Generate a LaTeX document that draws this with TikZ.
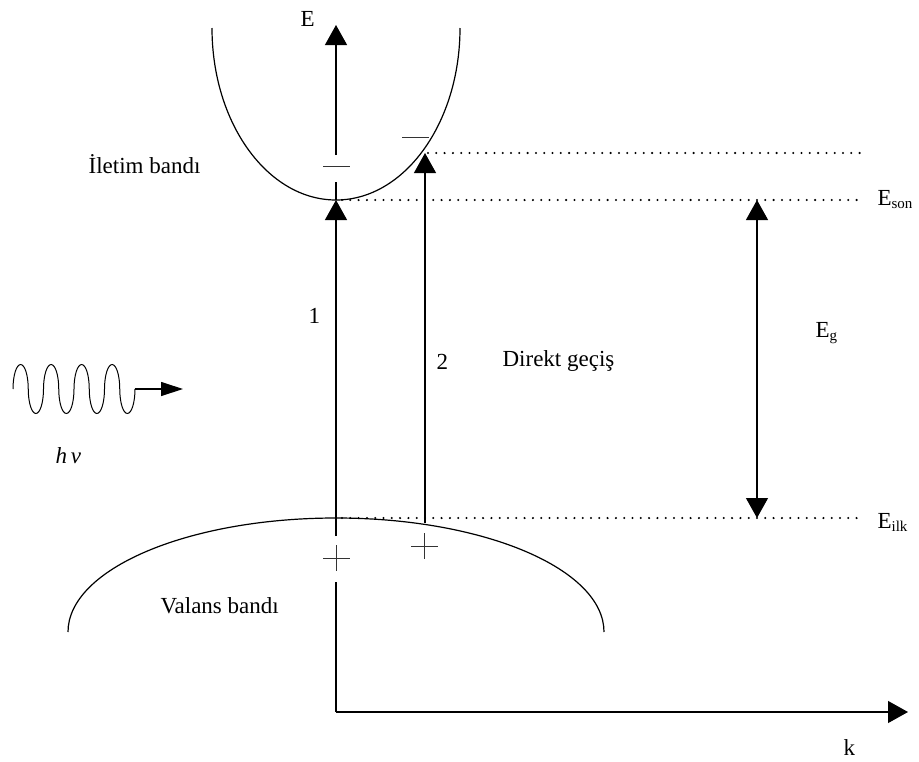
\documentclass[tikz,border=0pt]{standalone}
\usepackage{fontspec}
\setmainfont{Liberation Serif}
\usetikzlibrary{arrows.meta}
\begin{document}
\begin{tikzpicture}[x=1pt,y=-1pt,line width=1.2pt,
  tri/.style={-{Triangle[length=20pt,width=22pt]}},
  dtri/.style={{Triangle[length=20pt,width=22pt]}-{Triangle[length=20pt,width=22pt]}},
  dotline/.style={line width=2.3pt,dash pattern=on 0pt off 8.3pt,line cap=round},
  lbl/.style={inner sep=0pt,anchor=base west,font=\fontsize{23}{26}\selectfont},
  sign/.style={line width=1pt,black!80},
  band/.style={line width=1.2pt},
  up/.style={},
  wave/.style={line width=1pt}]
\useasboundingbox (0,0) rectangle (919,761);
% coordinates
\coordinate (O) at (336,712);
\coordinate (kend) at (908,712);
\coordinate (axlow) at (336,582);
\coordinate (a1s) at (336,536);
\coordinate (a1e) at (336,200);
\coordinate (segtop) at (336,182);
\coordinate (axup) at (336,155);
\coordinate (Etop) at (336,25);
\coordinate (a2s) at (425,523);
\coordinate (a2e) at (425,153);
\coordinate (d1s) at (428,153);
\coordinate (d1e) at (862,153);
\coordinate (d2s) at (342,200);
\coordinate (d2e) at (862,200);
\coordinate (d3s) at (342,518);
\coordinate (d3e) at (862,518);
\coordinate (g1) at (757,200);
\coordinate (g2) at (757,518);
\coordinate (wstart) at (13,389);
\coordinate (wend) at (135,389);
\coordinate (wtip) at (183,389);
% bands
\draw[band] (212,28) arc[start angle=180,end angle=0,x radius=124,y radius=172];
\draw[band] (68,632) arc[start angle=180,end angle=360,x radius=268,y radius=114];
% axes
\draw (O) -- (axlow);
\draw[tri] (O) -- (kend);
\draw[tri] (a1s) -- (a1e);
\draw (a1e) -- (segtop);
\draw[tri] (axup) -- (Etop);
\draw[tri] (a2s) -- (a2e);
% dotted levels
\draw[dotline] (d1s) -- (d1e);
\draw[dotline] (d2s) -- (d2e);
\draw[dotline] (d3s) -- (d3e);
% gap arrow
\draw[dtri] (g1) -- (g2);
% signs
\draw[sign] (323,166) -- (350,166);
\draw[sign] (402,137) -- (429,137);
\draw[sign] (323,558) -- (350,558) (336,545) -- (336,571);
\draw[sign] (411,546) -- (438,546) (424,533) -- (424,559);
% photon
\draw[wave] (wstart)
  \foreach \i in {1,...,4} {
    arc[start angle=180,end angle=360,x radius=7.625,y radius=24.5]
    arc[start angle=180,end angle=0,x radius=7.625,y radius=24.5]
  };
\draw[line width=1.2pt,-{Triangle[length=22pt,width=14pt]}] (wend) -- (wtip);
% labels
\node[lbl] (Elab) at (300,26) {E};
\node[lbl] (ilet) at (88,173) {İletim bandı};
\node[lbl] (eson) at (877,205) {E\raisebox{-3pt}{\fontsize{15}{16}\selectfont son}};
\node[lbl] (one) at (308,323) {1};
\node[lbl] (two) at (436,369) {2};
\node[lbl] (direkt) at (502,366) {Direkt geçiş};
\node[lbl] (eg) at (815,337) {E\raisebox{-3pt}{\fontsize{15}{16}\selectfont g}};
\node[lbl] (hnu) at (55,463) {\textit{h}\,\textit{ν}};
\node[lbl] (eilk) at (877,528) {E\raisebox{-3pt}{\fontsize{15}{16}\selectfont ilk}};
\node[lbl] (valans) at (160,613) {Valans bandı};
\node[lbl] (klab) at (843,755) {k};
\end{tikzpicture}
\end{document}
